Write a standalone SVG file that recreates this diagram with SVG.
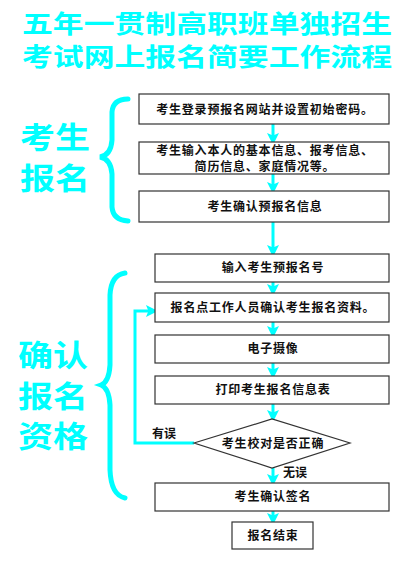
<svg xmlns="http://www.w3.org/2000/svg" width="404" height="563" viewBox="0 0 404 563">
<style>
.title{font-family:"Noto Sans CJK SC",sans-serif;font-weight:bold;font-size:25px;fill:#00FFFF}
.side{font-family:"Noto Sans CJK SC",sans-serif;font-weight:bold;font-size:30px;fill:#00FFFF}
.box{fill:#fff;stroke:#333;stroke-width:1.2}
.t{font-family:"Noto Sans CJK SC",sans-serif;font-weight:bold;font-size:12px;fill:#111;text-anchor:middle;letter-spacing:0.8px}
.lbl{font-family:"Noto Sans CJK SC",sans-serif;font-weight:bold;font-size:12px;fill:#111}
.c{stroke:#00FFFF;stroke-width:3;fill:none}
.brace{stroke:#00FFFF;stroke-width:5;fill:none;stroke-linecap:round}
</style>
<defs>
<marker id="ah" markerWidth="4" markerHeight="4" refX="2" refY="2" orient="auto" markerUnits="strokeWidth">
<path d="M0,0 L4,2 L0,4 L0.8,2 Z" fill="#00FFFF"/>
</marker>
</defs>
<rect width="404" height="563" fill="#fff"/>
<g id="title">
<text class="title" x="207" y="33" text-anchor="middle" textLength="370" lengthAdjust="spacingAndGlyphs">五年一贯制高职班单独招生</text>
<text class="title" x="207" y="66" text-anchor="middle" textLength="370" lengthAdjust="spacingAndGlyphs">考试网上报名简要工作流程</text>
</g>
<g id="group1">
<text class="side" x="20" y="148" textLength="70" lengthAdjust="spacingAndGlyphs">考生</text>
<text class="side" x="20" y="189" textLength="70" lengthAdjust="spacingAndGlyphs">报名</text>
<path class="brace" d="M128,99 Q113,99 112,112 L112,140 Q111,155 100,157 Q111,159 112,174 L112,207 Q113,220 128,221"/>
</g>
<g id="group2">
<text class="side" x="18" y="366" textLength="70" lengthAdjust="spacingAndGlyphs">确认</text>
<text class="side" x="18" y="407" textLength="70" lengthAdjust="spacingAndGlyphs">报名</text>
<text class="side" x="18" y="447" textLength="70" lengthAdjust="spacingAndGlyphs">资格</text>
<path class="brace" d="M125,273 Q111,275 110,295 L110,365 Q109,382 101,385 Q109,388 110,405 L110,470 Q111,495 125,498"/>
</g>
<g id="connectors">
<line class="c" x1="273" y1="124" x2="273" y2="139" marker-end="url(#ah)"/>
<line class="c" x1="273" y1="174" x2="273" y2="188" marker-end="url(#ah)"/>
<line class="c" x1="273" y1="222" x2="273" y2="251" marker-end="url(#ah)"/>
<line class="c" x1="273" y1="282" x2="273" y2="290" marker-end="url(#ah)"/>
<line class="c" x1="273" y1="322" x2="273" y2="332" marker-end="url(#ah)"/>
<line class="c" x1="273" y1="363" x2="273" y2="373" marker-end="url(#ah)"/>
<line class="c" x1="273" y1="404" x2="273" y2="416" marker-end="url(#ah)"/>
<line class="c" x1="273" y1="468" x2="273" y2="480" marker-end="url(#ah)"/>
<line class="c" x1="273" y1="511" x2="273" y2="519" marker-end="url(#ah)"/>
<polyline class="c" points="194,443 135,443 135,311 152,311" marker-end="url(#ah)"/>
<text class="lbl" x="152" y="438">有误</text>
<text class="lbl" x="283" y="477">无误</text>
</g>
<g id="n1"><rect class="box" x="139" y="94" width="250" height="30"/><text class="t" x="265" y="113.5">考生登录预报名网站并设置初始密码。</text></g>
<g id="n2"><rect class="box" x="139" y="142" width="250" height="32"/><text class="t" x="265" y="155" font-size="11.5">考生输入本人的基本信息、报考信息、</text><text class="t" x="265" y="170.5" font-size="11.5">简历信息、家庭情况等。</text></g>
<g id="n3"><rect class="box" x="139" y="191" width="250" height="31"/><text class="t" x="265" y="210.5">考生确认预报名信息</text></g>
<g id="n4"><rect class="box" x="155" y="254" width="234" height="28"/><text class="t" x="273" y="272">输入考生预报名号</text></g>
<g id="n5"><rect class="box" x="155" y="293" width="234" height="29"/><text class="t" x="273" y="311.5">报名点工作人员确认考生报名资料。</text></g>
<g id="n6"><rect class="box" x="155" y="335" width="234" height="28"/><text class="t" x="273" y="353">电子摄像</text></g>
<g id="n7"><rect class="box" x="155" y="376" width="234" height="28"/><text class="t" x="273" y="394">打印考生报名信息表</text></g>
<g id="n8"><polygon class="box" points="194,443 272,419 350,443 272,468"/><text class="t" x="273" y="447.5">考生校对是否正确</text></g>
<g id="n9"><rect class="box" x="155" y="483" width="234" height="28"/><text class="t" x="273" y="501">考生确认签名</text></g>
<g id="n10"><rect class="box" x="232" y="522" width="81" height="27"/><text class="t" x="273" y="540">报名结束</text></g>
</svg>
